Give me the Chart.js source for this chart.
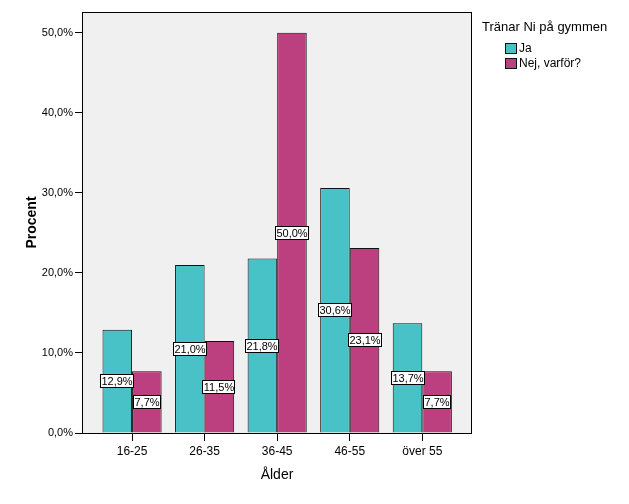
<!DOCTYPE html>
<html>
<head>
<meta charset="utf-8">
<script src="https://cdn.jsdelivr.net/npm/chart.js@4/dist/chart.umd.min.js"></script>
<style>
  html, body { margin: 0; padding: 0; background: #fff; }
  #wrap { width: 629px; height: 504px; }
</style>
</head>
<body>
<div id="wrap"><canvas id="chart" width="629" height="504"></canvas></div>
<script>
var categories = ['16-25', '26-35', '36-45', '46-55', 'över 55'];
var ja = [12.9, 21.0, 21.8, 30.6, 13.7];
var nej = [7.7, 11.5, 50.0, 23.1, 7.7];
var seriesNames = ['Ja', 'Nej, varför?'];
var yTicks = [0, 10, 20, 30, 40, 50];
var legendTitle = 'Tränar Ni på gymmen';

var FONT = 'Arial, "Liberation Sans", sans-serif';
var colJa = '#48c2c6';
var colNej = '#bc3f80';

function pct(v) {
  return v.toFixed(1).replace('.', ',') + '%';
}

function toPoints(arr) {
  return arr.map(function(v, i) { return { x: i + 1, y: v }; });
}

// grey plot background + frame
var plotBg = {
  id: 'plotBg',
  beforeDraw: function(chart) {
    var a = chart.chartArea, ctx = chart.ctx;
    ctx.save();
    ctx.fillStyle = '#f0f0f0';
    ctx.fillRect(a.left, a.top, a.right - a.left, a.bottom - a.top);
    ctx.restore();
  },
  afterDraw: function(chart) {
    var a = chart.chartArea, ctx = chart.ctx;
    ctx.save();
    ctx.strokeStyle = '#000';
    ctx.lineWidth = 1;
    ctx.strokeRect(Math.round(a.left) + 0.5, Math.round(a.top) + 0.5,
      Math.round(a.right - a.left) - 1, Math.round(a.bottom - a.top));
    ctx.restore();
  }
};

// value labels in white boxes, middle of each bar
var barLabels = {
  id: 'barLabels',
  afterDatasetsDraw: function(chart) {
    var ctx = chart.ctx;
    ctx.save();
    ctx.font = '11px ' + FONT;
    ctx.textAlign = 'center';
    ctx.textBaseline = 'middle';
    chart.data.datasets.forEach(function(ds, di) {
      chart.getDatasetMeta(di).data.forEach(function(bar, i) {
        var txt = pct(ds.data[i].y);
        var w = Math.ceil(ctx.measureText(txt).width) + 2;
        var h = 14;
        var cx = Math.round(bar.x);
        var cy = Math.round((bar.y + bar.base) / 2);
        var x0 = cx - Math.round(w / 2), y0 = cy - 7;
        ctx.fillStyle = '#fff';
        ctx.fillRect(x0, y0, w, h);
        ctx.strokeStyle = '#000';
        ctx.lineWidth = 1;
        ctx.strokeRect(x0 + 0.5, y0 + 0.5, w - 1, h - 1);
        ctx.fillStyle = '#000';
        ctx.fillText(txt, cx, cy + 1);
      });
    });
    ctx.restore();
  }
};

// legend at the right, outside the plot
var sideLegend = {
  id: 'sideLegend',
  afterDraw: function(chart) {
    var ctx = chart.ctx;
    ctx.save();
    ctx.textBaseline = 'middle';
    ctx.textAlign = 'left';
    ctx.fillStyle = '#000';
    ctx.font = '13px ' + FONT;
    ctx.fillText(legendTitle, 482, 27);
    ctx.font = '12px ' + FONT;
    var cols = [colJa, colNej];
    seriesNames.forEach(function(name, i) {
      var y = 43 + i * 15;
      ctx.fillStyle = cols[i];
      ctx.fillRect(505, y, 12, 11);
      ctx.strokeStyle = '#111';
      ctx.lineWidth = 1;
      ctx.strokeRect(505.5, y + 0.5, 11, 10);
      ctx.fillStyle = '#000';
      ctx.fillText(name, 519, y + 6);
    });
    ctx.restore();
  }
};

new Chart(document.getElementById('chart'), {
  type: 'bar',
  data: {
    datasets: [
      { label: seriesNames[0], data: toPoints(ja), backgroundColor: colJa,
        borderColor: '#111', borderWidth: 1 },
      { label: seriesNames[1], data: toPoints(nej), backgroundColor: colNej,
        borderColor: '#111', borderWidth: 1 }
    ]
  },
  options: {
    responsive: false,
    animation: false,
    events: [],
    layout: { padding: { left: 0, right: 157, top: 12, bottom: 0 } },
    datasets: { bar: { categoryPercentage: 0.815, barPercentage: 1 } },
    plugins: { legend: { display: false }, tooltip: { enabled: false } },
    scales: {
      x: {
        type: 'linear',
        offset: false,
        min: 0.31,
        max: 5.685,
        afterBuildTicks: function(scale) {
          scale.ticks = categories.map(function(c, i) { return { value: i + 1 }; });
        },
        afterFit: function(scale) { scale.height = 71; },
        grid: { offset: false, drawOnChartArea: false, drawTicks: true, tickLength: 8, color: '#000' },
        border: { display: false },
        ticks: {
          autoSkip: false,
          maxRotation: 0,
          padding: 3,
          color: '#000',
          font: { family: FONT, size: 12 },
          callback: function(v) { return categories[v - 1]; }
        },
        title: {
          display: true,
          text: 'Ålder',
          color: '#000',
          font: { family: FONT, size: 14 },
          padding: { top: 0, bottom: 20 }
        }
      },
      y: {
        min: 0,
        max: 52.6,
        afterBuildTicks: function(scale) {
          scale.ticks = yTicks.map(function(v) { return { value: v }; });
        },
        afterFit: function(scale) { scale.width = 82; },
        grid: { drawOnChartArea: false, drawTicks: true, tickLength: 7, color: '#000' },
        border: { display: false },
        ticks: {
          padding: 2,
          color: '#000',
          font: { family: FONT, size: 11 },
          callback: function(v) { return pct(v); }
        },
        title: {
          display: true,
          text: 'Procent',
          color: '#000',
          font: { family: FONT, size: 14, weight: 'bold' },
          padding: { top: 24, bottom: 0 }
        }
      }
    }
  },
  plugins: [plotBg, barLabels, sideLegend]
});
</script>
</body>
</html>
